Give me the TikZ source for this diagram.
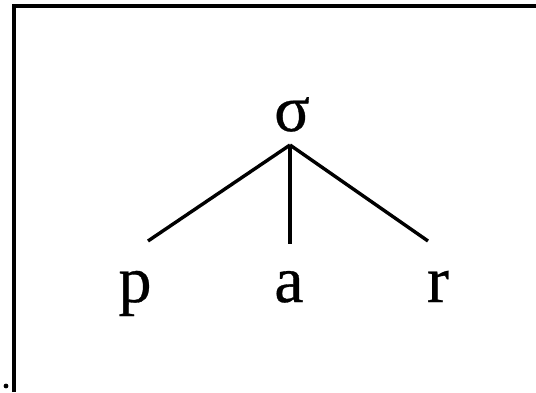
\documentclass[tikz,border=0pt]{standalone}
\usepackage{fontspec}
\setmainfont{Liberation Serif}
\newfontfamily\heavyserif[FakeBold=0.5]{Liberation Serif}
\begin{document}
\begin{tikzpicture}[x=1pt,y=1pt,
  lbl/.style={anchor=base,inner sep=0pt,font=\heavyserif\fontsize{66}{70}\selectfont},
  edge/.style={line width=3.4pt},
  frame/.style={line width=3.2pt,line join=miter}]
\useasboundingbox (0,0) rectangle (536,392);
\draw[frame] (14,0) -- (14,386) -- (536,386);
\fill (6,6) circle (2.4);
\node[lbl] (s) at (292,261) {σ};
\node[lbl] (p) at (135,90) {p};
\node[lbl] (a) at (289,90) {a};
\node[lbl] (r) at (438,90) {r};
\coordinate (apex) at (290,247);
\coordinate (pe) at (148,151);
\coordinate (ae) at (290,148);
\coordinate (re) at (428,151);
\draw[edge] (apex) -- (pe);
\draw[edge] (apex) -- (ae);
\draw[edge] (apex) -- (re);
\end{tikzpicture}
\end{document}
